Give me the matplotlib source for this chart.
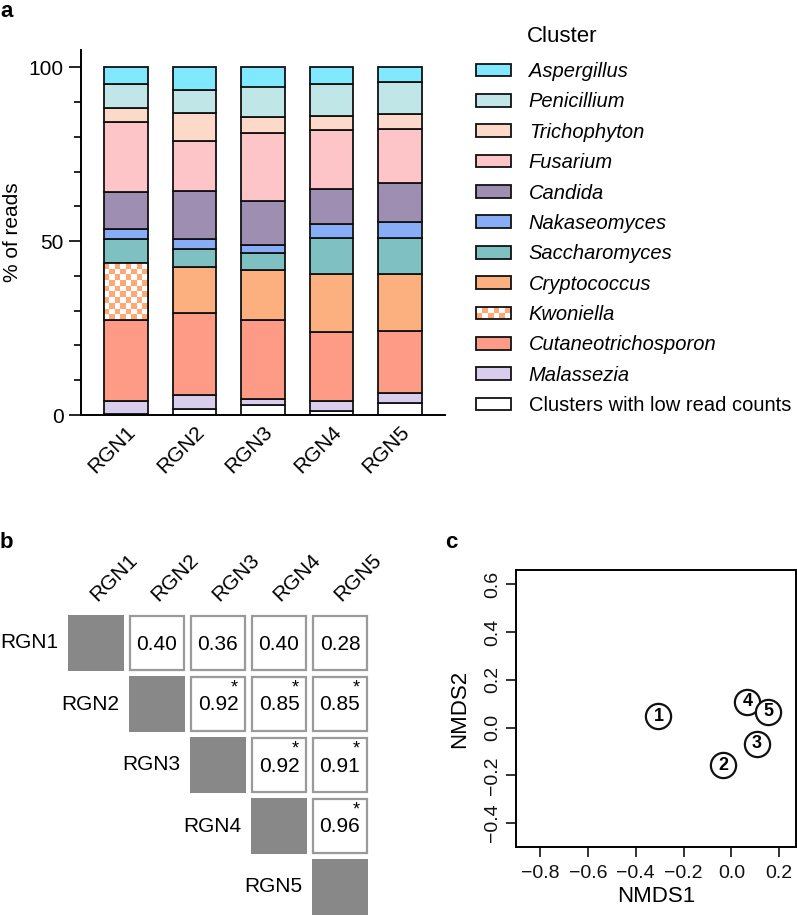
import numpy as np
import matplotlib
matplotlib.use("Agg")
import matplotlib.pyplot as plt
from matplotlib.patches import Rectangle
from matplotlib.legend_handler import HandlerBase
from matplotlib.ticker import MultipleLocator

plt.rcParams['font.family'] = ['Liberation Sans', 'DejaVu Sans']

# ---- data ----
samples = ["RGN1", "RGN2", "RGN3", "RGN4", "RGN5"]

# stacking order, bottom to top
clusters = ["Clusters with low read counts", "Malassezia", "Cutaneotrichosporon",
            "Kwoniella", "Cryptococcus", "Saccharomyces", "Nakaseomyces",
            "Candida", "Fusarium", "Trichophyton", "Penicillium", "Aspergillus"]

low_reads = [0.3, 1.7, 2.9, 1.1, 3.4]
malassezia = [3.7, 4.0, 1.8, 2.9, 2.8]
cutaneotrichosporon = [23.4, 23.6, 22.6, 20.0, 18.1]
kwoniella = [16.2, 0.0, 0.0, 0.0, 0.0]
cryptococcus = [0.0, 13.3, 14.4, 16.5, 16.4]
saccharomyces = [7.0, 5.1, 5.0, 10.5, 10.2]
nakaseomyces = [2.8, 2.9, 2.2, 3.9, 4.5]
candida = [10.8, 13.8, 12.8, 10.2, 11.4]
fusarium = [20.2, 14.4, 19.3, 17.0, 15.5]
trichophyton = [4.0, 8.0, 4.6, 3.8, 4.3]
penicillium = [6.8, 6.8, 8.9, 9.2, 9.2]
aspergillus = [4.8, 6.4, 5.5, 4.9, 4.2]

colors = ["#ffffff", "#d8cdec", "#fe9b87", "#ffa875", "#fdb07f", "#7fc0c3",
          "#86adf5", "#9e8fb2", "#fec5c8", "#fdd9c9", "#c0e6e8", "#80e8ff"]

# panel b: pairwise similarity (upper triangle), significance flags
sim_values = {(0, 1): 0.40, (0, 2): 0.36, (0, 3): 0.40, (0, 4): 0.28,
              (1, 2): 0.92, (1, 3): 0.85, (1, 4): 0.85,
              (2, 3): 0.92, (2, 4): 0.91,
              (3, 4): 0.96}
sim_signif = {(0, 1): False, (0, 2): False, (0, 3): False, (0, 4): False,
              (1, 2): True, (1, 3): True, (1, 4): True,
              (2, 3): True, (2, 4): True,
              (3, 4): True}

# panel c: NMDS coordinates
nmds1 = [-0.305, -0.033, 0.107, 0.067, 0.155]
nmds2 = [0.048, -0.157, -0.067, 0.108, 0.066]
point_labels = ["1", "2", "3", "4", "5"]

W, H = 797, 915
fig = plt.figure(figsize=(W / 100, H / 100), dpi=100)


def px_axes(l, t, r, b):
    return fig.add_axes([l / W, 1 - b / H, (r - l) / W, (b - t) / H])


# ---- panel a ----
ax = px_axes(81, 50, 445, 415)
series = [low_reads, malassezia, cutaneotrichosporon, kwoniella, cryptococcus,
          saccharomyces, nakaseomyces, candida, fusarium, trichophyton,
          penicillium, aspergillus]
x = np.arange(len(samples))
bw = 0.64
bottom = np.zeros(len(samples))
checker_bars = []
for name, vals, col in zip(clusters, series, colors):
    vals = np.array(vals)
    if name == "Kwoniella":
        bars = ax.bar(x, vals, bw, bottom=bottom, color="white",
                      edgecolor="#111111", linewidth=1.3, zorder=2)
        checker_bars.append((bars, bottom.copy(), vals))
    else:
        ax.bar(x, vals, bw, bottom=bottom, color=col, edgecolor="#111111",
               linewidth=1.3, zorder=2)
    bottom += vals

# checker pattern for Kwoniella
ck = np.array([[1.0, 0.66, 0.46]])
for bars, bot, vals in checker_bars:
    for rect, b0, v in zip(bars, bot, vals):
        if v <= 0:
            continue
        nx = 8
        ny = max(1, int(round(v * 3.48 / 5.4)))
        grid = (np.add.outer(np.arange(ny), np.arange(nx)) % 2).astype(float)
        img = np.ones((ny, nx, 3))
        img[grid == 0] = ck
        im = ax.imshow(img, extent=(rect.get_x(), rect.get_x() + rect.get_width(), b0, b0 + v),
                       aspect="auto", interpolation="nearest", zorder=2.5)
        im.set_clip_path(rect)
        ax.add_patch(Rectangle((rect.get_x(), b0), rect.get_width(), v, fill=False,
                               edgecolor="#111111", linewidth=1.3, zorder=3))

ax.set_xlim(-0.66, 4.66)
ax.set_ylim(0, 105)
ax.spines[["top", "right"]].set_visible(False)
ax.spines[["left", "bottom"]].set_linewidth(1.4)
ax.set_yticks([0, 50, 100])
ax.yaxis.set_minor_locator(MultipleLocator(10))
ax.tick_params(axis="y", which="major", length=9, width=1.2, labelsize=15)
ax.tick_params(axis="y", which="minor", length=5, width=1.2)
ax.tick_params(axis="x", length=0, labelsize=15, pad=5)
ax.set_xticks(x)
ax.set_xticklabels(samples, rotation=45, ha="right", rotation_mode="anchor")
ax.set_ylabel("% of reads", fontsize=15, labelpad=5)


class HandlerChecker(HandlerBase):
    def create_artists(self, legend, orig_handle, xdescent, ydescent, width,
                       height, fontsize, trans):
        arts = [Rectangle((-xdescent, -ydescent), width, height, facecolor="white",
                          edgecolor="none", transform=trans)]
        nx, ny = 6, 2
        sw, sh = width / nx, height / ny
        for i in range(nx):
            for j in range(ny):
                if (i + j) % 2 == 0:
                    arts.append(Rectangle((-xdescent + i * sw, -ydescent + j * sh), sw, sh,
                                          facecolor="#ffa875", edgecolor="none",
                                          transform=trans))
        arts.append(Rectangle((-xdescent, -ydescent), width, height, fill=False,
                              edgecolor="#111111", linewidth=1.3, transform=trans))
        return arts


handles = []
handler_map = {}
for name, col in zip(clusters[::-1], colors[::-1]):
    if name == "Kwoniella":
        h = Rectangle((0, 0), 1, 1, facecolor="white", edgecolor="#111111")
        handler_map[h] = HandlerChecker()
    else:
        h = Rectangle((0, 0), 1, 1, facecolor=col, edgecolor="#111111", linewidth=1.3)
    handles.append(h)

leg = ax.legend(handles, clusters[::-1], handler_map=handler_map, frameon=False,
                loc="upper left", bbox_to_anchor=(476 / W, 1 - 62 / H),
                bbox_transform=fig.transFigure, fontsize=14.5, handlelength=1.74,
                handleheight=0.6, handletextpad=0.88, labelspacing=0.565,
                borderpad=0, borderaxespad=0)
for t in leg.get_texts():
    if t.get_text() != "Clusters with low read counts":
        t.set_fontstyle("italic")
fig.text(527 / W, 1 - 37 / H, "Cluster", fontsize=16, va="center", ha="left")

# ---- panel b ----
axb = px_axes(68, 615, 368, 915)
axb.set_xlim(0, 300)
axb.set_ylim(300, 0)
axb.axis("off")
step, cell = 61, 56
n = len(samples)
for i in range(n):
    x0 = i * step
    axb.add_patch(Rectangle((x0, x0), cell, cell, facecolor="#888888",
                            edgecolor="none", clip_on=False))
    axb.text(x0 - 10, x0 + cell / 2, samples[i], ha="right", va="center",
             fontsize=15, clip_on=False)
    axb.text(x0 + 32, -10, samples[i], ha="left", va="bottom", rotation=45,
             rotation_mode="anchor", fontsize=15, clip_on=False)
for (i, j), v in sim_values.items():
    x0, y0 = j * step, i * step
    axb.add_patch(Rectangle((x0 + 1, y0 + 1), cell - 2, cell - 2, facecolor="white",
                            edgecolor="#9a9a9a", linewidth=1.6, clip_on=False))
    axb.text(x0 + cell / 2, y0 + cell / 2 + 1, f"{v:.2f}", ha="center", va="center",
             fontsize=15, clip_on=False)
    if sim_signif[(i, j)]:
        axb.text(x0 + 44, y0 + 12, "*", ha="center", va="center", fontsize=13,
                 clip_on=False)

# ---- panel c ----
axc = px_axes(516, 570, 796, 847)
axc.scatter(nmds1, nmds2, s=330, facecolor="white", edgecolor="#111111",
            linewidth=1.6, zorder=3)
for xx, yy, lab in zip(nmds1, nmds2, point_labels):
    axc.text(xx, yy, lab, ha="center", va="center", fontsize=13, fontweight="bold",
             zorder=4)
axc.set_xlim(-0.9, 0.27)
axc.set_ylim(-0.5, 0.66)
axc.set_xticks([-0.8, -0.6, -0.4, -0.2, 0.0, 0.2])
axc.set_yticks([-0.4, -0.2, 0.0, 0.2, 0.4, 0.6])
axc.set_xticklabels(["\u22120.8", "\u22120.6", "\u22120.4", "\u22120.2", "0.0", "0.2"])
axc.set_yticklabels(["\u22120.4", "\u22120.2", "0.0", "0.2", "0.4", "0.6"],
                    rotation=90, va="center")
for s in axc.spines.values():
    s.set_linewidth(1.4)
axc.tick_params(length=7, width=1.2, labelsize=14, colors="#111111")
axc.tick_params(axis="x", pad=6)
axc.set_xlabel("NMDS1", fontsize=16, labelpad=3)
axc.set_ylabel("NMDS2", fontsize=16, labelpad=10)

# panel letters
fig.text(0 / W, 1 - 1 / H, "a", fontsize=16, fontweight="bold", va="top", ha="left")
fig.text(0 / W, 1 - 543 / H, "b", fontsize=16, fontweight="bold", va="center", ha="left")
fig.text(445 / W, 1 - 543 / H, "c", fontsize=16, fontweight="bold", va="center", ha="left")

fig.savefig("out.png", dpi=100)
